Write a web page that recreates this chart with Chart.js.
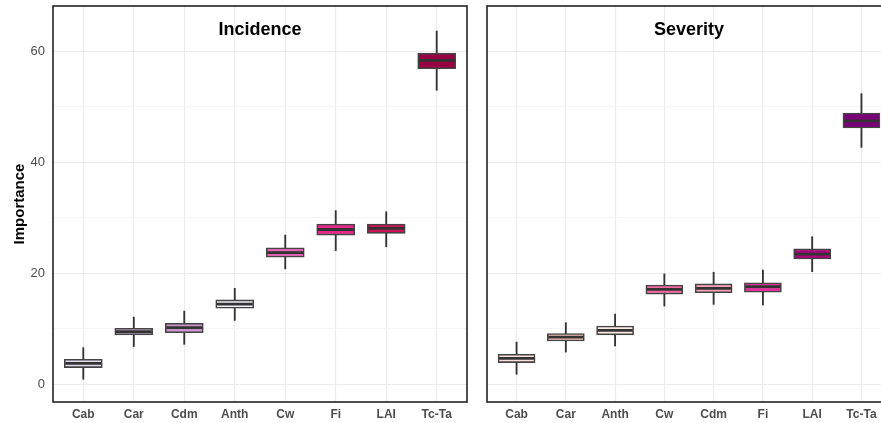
<!DOCTYPE html>
<html lang="en">
<head>
<meta charset="UTF-8">
<title>Importance - Incidence / Severity</title>
<script src="https://cdn.jsdelivr.net/npm/chart.js@4"></script>
<style>
  body { margin: 0; overflow: hidden; background: #fff; width: 881px; height: 423px; position: relative; }
  canvas { position: absolute; top: 0; }
  #inc { left: 0; }
  #sev { left: 470px; }
</style>
</head>
<body>
<canvas id="inc" width="470" height="423"></canvas>
<canvas id="sev" width="424" height="423"></canvas>
<script>
// Incidence panel
const incCats = ['Cab', 'Car', 'Cdm', 'Anth', 'Cw', 'Fi', 'LAI', 'Tc-Ta'];
const incLow = [0.9, 6.8, 7.2, 11.5, 20.8, 24.1, 24.8, 53.0];
const incQ1 = [3.0, 8.9, 9.3, 13.7, 22.9, 26.9, 27.2, 56.9];
const incMed = [3.75, 9.5, 10.2, 14.45, 23.75, 27.9, 28.1, 58.4];
const incQ3 = [4.5, 10.1, 11.0, 15.2, 24.6, 28.9, 28.9, 59.7];
const incHigh = [6.6, 12.1, 13.2, 17.3, 26.9, 31.3, 31.1, 63.7];
const incColors = ['#e4dced', '#d4b9da', '#c994c7', '#f1eef6', '#df65b0', '#e7298a', '#ce1256', '#980043'];

// Severity panel
const sevCats = ['Cab', 'Car', 'Anth', 'Cw', 'Cdm', 'Fi', 'LAI', 'Tc-Ta'];
const sevLow = [1.8, 5.8, 6.9, 14.1, 14.4, 14.3, 20.3, 42.7];
const sevQ1 = [3.9, 7.8, 8.9, 16.25, 16.5, 16.6, 22.6, 46.2];
const sevMed = [4.65, 8.5, 9.7, 17.1, 17.3, 17.6, 23.45, 47.5];
const sevQ3 = [5.4, 9.15, 10.5, 17.9, 18.1, 18.3, 24.4, 48.9];
const sevHigh = [7.6, 11.1, 12.65, 19.9, 20.2, 20.6, 26.6, 52.4];
const sevColors = ['#fde0dd', '#fcc5c0', '#fdeae6', '#f768a1', '#fa9fb5', '#dd3497', '#ae017e', '#7a0177'];

const yTicks = [0, 10, 20, 30, 40, 50, 60];
const FONT = '"Liberation Sans", Arial, sans-serif';

// frame + facet title drawn inside the panel
const panelPlugin = {
    id: 'panel',
    afterDatasetsDraw(chart, args, opts) {
        const { ctx, chartArea: a } = chart;
        ctx.save();
        ctx.strokeStyle = '#222';
        ctx.lineWidth = 1.6;
        ctx.strokeRect(a.left, a.top, a.right - a.left, a.bottom - a.top);
        ctx.fillStyle = '#000';
        ctx.font = 'bold 18px ' + FONT;
        ctx.textAlign = 'center';
        ctx.textBaseline = 'middle';
        ctx.fillText(opts.text, (a.left + a.right) / 2, a.top + 24);
        ctx.restore();
    }
};

function makePanel(id, title, cats, low, q1, med, q3, high, colors, showY, boxW) {
    const idx = cats.map((_, i) => i);
    return new Chart(document.getElementById(id), {
        type: 'bar',
        data: {
            datasets: [{
                // whiskers
                data: idx.map(i => ({ x: i, y: [low[i], high[i]] })),
                backgroundColor: '#333',
                barThickness: 1.2,
                grouped: false,
                order: 3
            }, {
                // boxes
                data: idx.map(i => ({ x: i, y: [q1[i], q3[i]] })),
                backgroundColor: colors,
                borderColor: '#444',
                borderWidth: 1.6,
                borderSkipped: false,
                barThickness: boxW,
                grouped: false,
                order: 2
            }, {
                // medians
                type: 'scatter',
                data: idx.map(i => ({ x: i, y: med[i] })),
                pointStyle: 'line',
                pointRadius: boxW / 2 - 1,
                pointHoverRadius: boxW / 2 - 1,
                borderColor: '#333',
                borderWidth: 2.8,
                showLine: false,
                order: 1
            }]
        },
        options: {
            responsive: false,
            animation: false,
            layout: { autoPadding: false, padding: { top: 6, right: 3, left: 0, bottom: 0 } },
            plugins: {
                legend: { display: false },
                tooltip: { enabled: false },
                panel: { text: title }
            },
            scales: {
                x: {
                    type: 'linear',
                    offset: false,
                    min: -0.6,
                    max: cats.length - 0.4,
                    afterBuildTicks: s => { s.ticks = idx.map(v => ({ value: v })); },
                    afterFit: s => { s.height = 21; s.paddingLeft = 0; s.paddingRight = 0; },
                    grid: { color: '#ebebeb', lineWidth: 1.1, drawTicks: false, offset: false },
                    border: { display: false },
                    ticks: {
                        autoSkip: false,
                        maxRotation: 0,
                        padding: 5,
                        color: '#4d4d4d',
                        font: { family: FONT, size: 12, weight: 'bold' },
                        callback: v => cats[v]
                    }
                },
                y: {
                    min: -3.2,
                    max: 68.2,
                    afterBuildTicks: s => { s.ticks = yTicks.map(v => ({ value: v })); },
                    afterFit: s => { s.width = showY ? 53 : 17; s.paddingTop = 0; s.paddingBottom = 0; },
                    grid: {
                        color: c => (c.tick && c.tick.value % 20 === 0) ? '#ebebeb' : '#f5f5f5',
                        lineWidth: 1.1,
                        drawTicks: false
                    },
                    border: { display: false },
                    ticks: {
                        display: showY,
                        padding: 8,
                        color: '#4d4d4d',
                        font: { family: FONT, size: 13 },
                        callback: v => (v % 20 === 0 ? v : '')
                    },
                    title: {
                        display: showY,
                        text: 'Importance',
                        color: '#000',
                        font: { family: FONT, size: 15, weight: 'bold' },
                        padding: { top: 11, bottom: 0 }
                    }
                }
            }
        },
        plugins: [panelPlugin]
    });
}

makePanel('inc', 'Incidence', incCats, incLow, incQ1, incMed, incQ3, incHigh, incColors, true, 38);
makePanel('sev', 'Severity', sevCats, sevLow, sevQ1, sevMed, sevQ3, sevHigh, sevColors, false, 37);
</script>
</body>
</html>
